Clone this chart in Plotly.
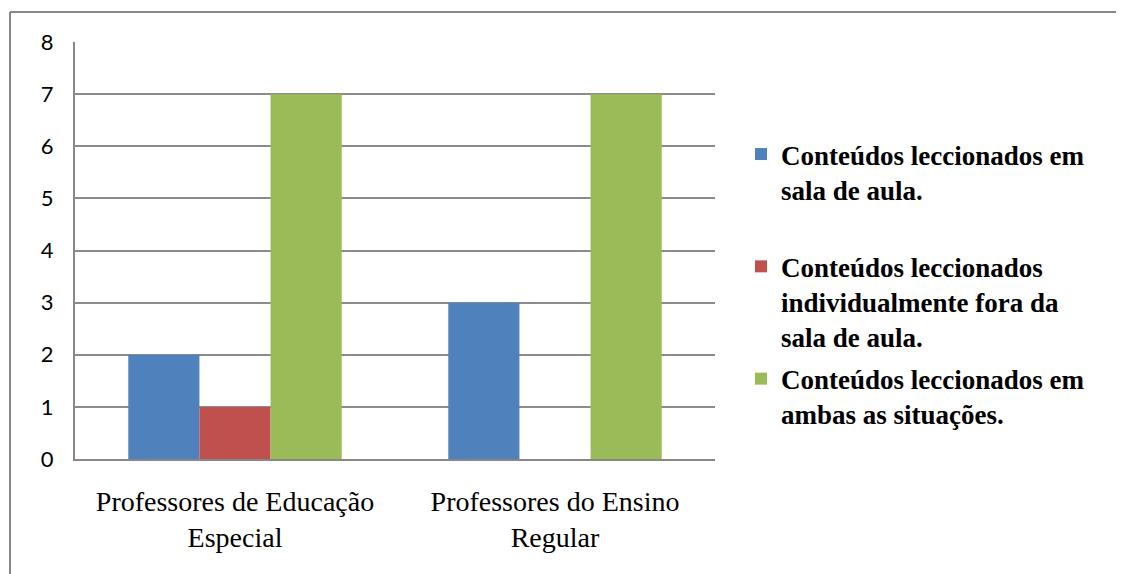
import plotly.graph_objects as go

categories = ["Professores de Educação<br>Especial", "Professores do Ensino<br>Regular"]
series_names = [
    "Conteúdos leccionados em<br>sala de aula.<br> ",
    "Conteúdos leccionados<br>individualmente fora da<br>sala de aula.",
    "Conteúdos leccionados em<br>ambas as situações.",
]
series_values = [
    [2, 3],
    [1, 0],
    [7, 7],
]
colors = ["#4F81BD", "#C0504D", "#9BBB59"]
y_ticks = [0, 1, 2, 3, 4, 5, 6, 7, 8]

# page offset (body margin) in the screenshot
OFF = 8
W, H = 1124 - OFF, 574 - OFF
ml, mt = 75 - OFF, 42 - OFF
mr = W - (715 - OFF)
mb = H - (459 - OFF)
pw, ph = W - ml - mr, H - mt - mb

fig = go.Figure()
for i, (name, vals, col) in enumerate(zip(series_names, series_values, colors)):
    fig.add_trace(go.Bar(
        x=categories, y=vals, name=name,
        marker=dict(color=col, line=dict(width=0)),
        legendgroup=f"g{i}",
    ))

def px_x(x):
    return (x - OFF - ml) / pw

def px_y(y):
    return (H - mb - (y - OFF)) / ph

border = dict(color="#888888", width=2)
fig.update_layout(
    width=W, height=H,
    margin=dict(l=ml, r=mr, t=mt, b=mb),
    paper_bgcolor="white", plot_bgcolor="white",
    barmode="group", bargap=0.333, bargroupgap=0,
    showlegend=True,
    legend=dict(
        x=px_x(741), y=px_y(130), xanchor="left", yanchor="top",
        font=dict(family="Liberation Serif", size=27, color="black", weight="bold"),
        valign="top", tracegroupgap=4, bgcolor="rgba(0,0,0,0)",
        traceorder="grouped",
    ),
    xaxis=dict(
        showgrid=False, showline=True, linecolor="#888888", linewidth=2,
        ticks="", tickfont=dict(family="Liberation Serif", size=28, color="black"),
        ticklabelstandoff=16,
    ),
    yaxis=dict(
        range=[0, 8], tickvals=y_ticks, showgrid=True, gridcolor="#8c8c8c", gridwidth=1.5,
        showline=True, linecolor="#888888", linewidth=2, zeroline=False,
        ticks="", tickfont=dict(family="Lato", size=22, color="black"),
        ticklabelstandoff=15,
    ),
    shapes=[
        dict(type="line", xref="paper", yref="paper",
             x0=px_x(10), x1=px_x(1160), y0=px_y(12), y1=px_y(12), line=border, layer="below"),
        dict(type="line", xref="paper", yref="paper",
             x0=px_x(10), x1=px_x(10), y0=px_y(12), y1=px_y(620), line=border, layer="below"),
    ],
)

fig.write_html("out.html")
